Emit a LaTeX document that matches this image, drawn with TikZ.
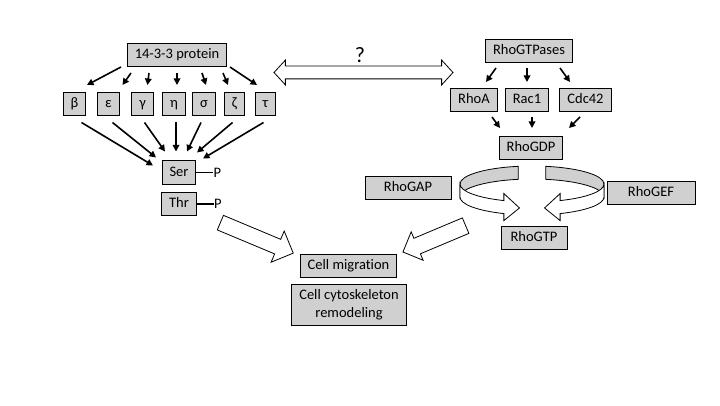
\documentclass[tikz,border=0pt]{standalone}
\usepackage{fontspec}
\setmainfont[Ligatures=NoCommon]{Carlito}
\usepackage{xcolor}
\definecolor{boxgray}{RGB}{208,208,208}
\usepackage{tikz}
\usetikzlibrary{arrows.meta, positioning, shapes.arrows}

\begin{document}
\begin{tikzpicture}[x=1pt, y=1pt,
  box/.style={draw, line width=1pt, fill=boxgray, inner xsep=7.5pt, inner ysep=2pt,
    minimum height=23pt, text height=10.5pt, text depth=3.5pt,
    font=\fontsize{14.5}{17.5}\selectfont},
  bigbox/.style={draw, line width=1pt, fill=boxgray, inner xsep=7.5pt, align=center,
    font=\fontsize{14.5}{17.5}\selectfont},
  arr/.style={line width=1.6pt, -{Triangle[length=6.5pt, width=6.5pt]}},
  fatarr/.style={single arrow, draw, fill=white, line width=0.8pt, inner xsep=0pt,
    inner ysep=7.5pt, single arrow head extend=9pt, anchor=tail},
  ring/.style={draw, line width=0.8pt}]
  \useasboundingbox (0,0) rectangle (720,405);

  % --- 14-3-3 protein and its isoforms ---
  \node[box] (prot) at (177,350) {14-3-3 protein};
  \node[box] (beta) at (74.5,301) {β};
  \node[box] (eps)  at (108.5,301) {ε};
  \node[box] (gam)  at (142.5,301) {γ};
  \node[box] (eta)  at (174,301) {η};
  \node[box] (sig)  at (204,301) {σ};
  \node[box] (zeta) at (234.5,301) {ζ};
  \node[box] (tau)  at (265.5,301) {τ};

  \draw[arr] ([xshift=-56pt]prot.south) -- ([xshift=12.5pt, yshift=7pt]beta.north);
  \draw[arr] ([xshift=-46pt, yshift=-6pt]prot.south) -- ([xshift=14pt, yshift=7pt]eps.north);
  \draw[arr] ([xshift=-28pt, yshift=-6pt]prot.south) -- ([xshift=5pt, yshift=7pt]gam.north);
  \draw[arr] ([yshift=-6pt]prot.south) -- ([xshift=3pt, yshift=7pt]eta.north);
  \draw[arr] ([xshift=25pt, yshift=-6pt]prot.south) -- ([xshift=2pt, yshift=7pt]sig.north);
  \draw[arr] ([xshift=46pt, yshift=-6pt]prot.south) -- ([xshift=-6.5pt, yshift=7pt]zeta.north);
  \draw[arr] ([xshift=53pt]prot.south) -- ([xshift=-8.5pt, yshift=7pt]tau.north);

  % phosphorylation sites
  \node[box] (ser) at (179,232.5) {Ser};
  \node[box] (thr) at (179,201) {Thr};
  \node[font=\fontsize{14.5}{17.5}\selectfont, inner sep=0pt, right=17pt of ser] (serp) {P};
  \node[font=\fontsize{14.5}{17.5}\selectfont, inner sep=0pt, right=17pt of thr] (thrp) {P};
  \draw[line width=1.5pt] (ser) -- (serp);
  \draw[line width=1.5pt] (thr) -- (thrp);

  \draw[arr] ([xshift=7pt, yshift=-6.5pt]beta.south) -- ([xshift=-26pt, yshift=-5pt]ser.north);
  \draw[arr] ([xshift=4pt, yshift=-6.5pt]eps.south) -- ([xshift=-23pt, yshift=3pt]ser.north);
  \draw[arr] ([xshift=2pt, yshift=-6.5pt]gam.south) -- ([xshift=-14pt, yshift=9pt]ser.north);
  \draw[arr] ([xshift=2pt, yshift=-6.5pt]eta.south) -- ([xshift=-3pt, yshift=9pt]ser.north);
  \draw[arr] ([xshift=-3pt, yshift=-6.5pt]sig.south) -- ([xshift=8pt, yshift=9pt]ser.north);
  \draw[arr] ([xshift=-2pt, yshift=-6.5pt]zeta.south) -- ([xshift=18pt, yshift=8pt]ser.north);
  \draw[arr] ([xshift=-2pt, yshift=-6.5pt]tau.south) -- ([xshift=24pt, yshift=2pt]ser.north);

  % --- link between both sides ---
  \node[double arrow, draw, fill=white, line width=0.8pt, inner xsep=0pt, inner ysep=6pt,
    double arrow head extend=6pt, double arrow tip angle=95, minimum height=179pt]
    (link) at (363.5,332.5) {};
  \node[font=\fontsize{22}{24}\selectfont] (qm) at (360,350) {?};

  % --- Rho GTPases ---
  \node[box] (gtpases) at (529,354) {RhoGTPases};
  \node[box] (rhoa) at (474,305) {RhoA};
  \node[box] (rac)  at (527,305) {Rac1};
  \node[box] (cdc)  at (585.5,305) {Cdc42};
  \node[box] (gdp)  at (531,257) {RhoGDP};
  \node[box, minimum width=86pt] (gap) at (408,217.5) {RhoGAP};
  \node[box, minimum width=88pt] (gef) at (651,212.5) {RhoGEF};
  \node[box, minimum width=66pt] (gtp) at (534,167.5) {RhoGTP};

  \draw[arr] ([xshift=-33pt, yshift=-5pt]gtpases.south) -- ([xshift=12pt, yshift=6pt]rhoa.north);
  \draw[arr] ([xshift=-2pt, yshift=-5pt]gtpases.south) -- ([yshift=6pt]rac.north);
  \draw[arr] ([xshift=31pt, yshift=-5pt]gtpases.south) -- ([xshift=-15.5pt, yshift=6pt]cdc.north);
  \draw[arr] ([xshift=18pt, yshift=-5pt]rhoa.south) -- ([xshift=-31pt, yshift=8pt]gdp.north);
  \draw[arr] ([xshift=5pt, yshift=-5pt]rac.south) -- ([xshift=1pt, yshift=8pt]gdp.north);
  \draw[arr] ([xshift=-5.5pt, yshift=-5pt]cdc.south) -- ([xshift=38pt, yshift=8pt]gdp.north);

  % GDP/GTP cycle (ring of two curved arrows)
  \coordinate (ringtop) at (532,221);
  \filldraw[ring, fill=boxgray] ([shift={(101:72 and 18)}]ringtop)
    arc[start angle=101, end angle=180, x radius=72pt, y radius=18pt] -- ++(0,-13)
    arc[start angle=180, end angle=101, x radius=72pt, y radius=18pt] -- cycle;
  \filldraw[ring, fill=boxgray] ([shift={(79:72 and 18)}]ringtop)
    arc[start angle=79, end angle=0, x radius=72pt, y radius=18pt] -- ++(0,-13)
    arc[start angle=0, end angle=79, x radius=72pt, y radius=18pt] -- cycle;
  \filldraw[ring, fill=white] ([shift={(180:72 and 18)}]ringtop)
    arc[start angle=180, end angle=247, x radius=72pt, y radius=18pt] -- ++(0,7)
    -- ++(15.6,-14.4) -- ++(-15.6,-12.6) -- ++(0,7)
    arc[start angle=247, end angle=180, x radius=72pt, y radius=18pt] -- cycle;
  \filldraw[ring, fill=white] ([shift={(0:72 and 18)}]ringtop)
    arc[start angle=360, end angle=293, x radius=72pt, y radius=18pt] -- ++(0,7)
    -- ++(-15.6,-14.4) -- ++(15.6,-12.6) -- ++(0,7)
    arc[start angle=293, end angle=360, x radius=72pt, y radius=18pt] -- cycle;

  % --- outcome ---
  \node[box] (mig) at (348.5,139.5) {Cell migration};
  \node[bigbox, minimum height=41pt] (cyto) at (349,100.5) {Cell cytoskeleton\\remodeling};

  \node[fatarr, minimum height=79pt, rotate=-22.7] (fatl) at (220,182.5) {};
  \node[fatarr, inner ysep=8pt, single arrow head extend=7pt, minimum height=68pt,
    rotate=202.8] (fatr) at (466,179.5) {};
\end{tikzpicture}
\end{document}
